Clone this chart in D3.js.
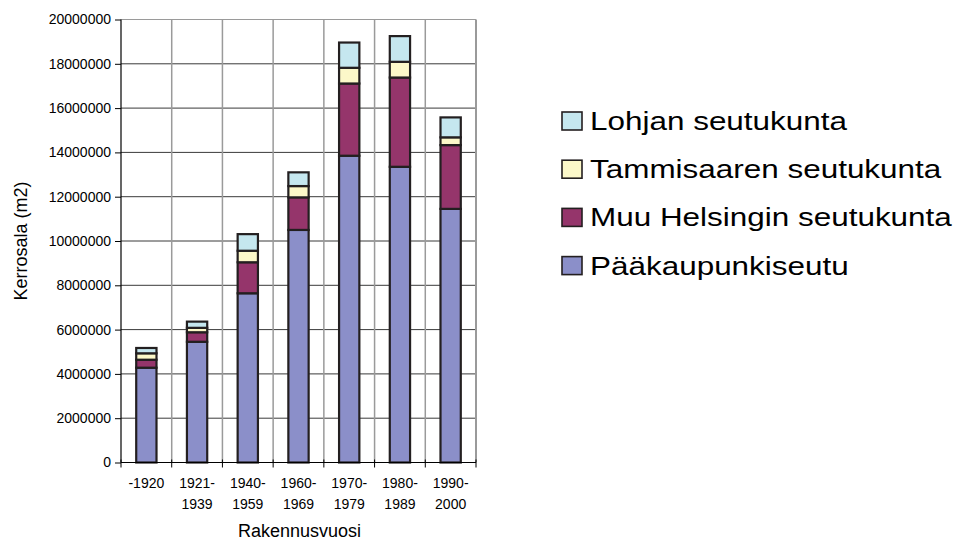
<!DOCTYPE html>
<html><head><meta charset="utf-8">
<script src="https://cdn.jsdelivr.net/npm/d3@7"></script>
<style>
body{margin:0;background:#fff;}
svg{display:block;font-family:"Liberation Sans",Arial,sans-serif;}
</style></head>
<body><svg id="c" width="959" height="542"></svg>
<script>
const categories = ["-1920","1921-\n1939","1940-\n1959","1960-\n1969","1970-\n1979","1980-\n1989","1990-\n2000"];
const paakaupunkiseutu = [4280000,5450000,7640000,10500000,13850000,13350000,11450000];
const muuHelsingin     = [360000, 430000, 1400000, 1470000, 3260000, 4030000, 2880000];
const tammisaaren      = [290000, 200000, 520000,  510000,  710000,  710000,  350000];
const lohjan           = [240000, 280000, 750000,  620000,  1140000, 1160000, 900000];
const seriesNames = ["Pääkaupunkiseutu","Muu Helsingin seutukunta","Tammisaaren seutukunta","Lohjan seutukunta"];
const seriesColors = ["#8b8fc9","#95356b","#fcf8c9","#c5e7ef"];
const yTicks = [0,2000000,4000000,6000000,8000000,10000000,12000000,14000000,16000000,18000000,20000000];
const yTitle = "Kerrosala (m2)";
const xTitle = "Rakennusvuosi";

const svg = d3.select("#c");
const m = {l:121, r:476, t:19.5, b:462.5};
const x = d3.scaleBand().domain(categories).range([m.l, m.r]).paddingInner(0).paddingOuter(0);
const y = d3.scaleLinear().domain([0,20000000]).range([m.b, m.t]);

const rows = categories.map((c,i)=>({cat:c, s0:paakaupunkiseutu[i], s1:muuHelsingin[i], s2:tammisaaren[i], s3:lohjan[i]}));
const stack = d3.stack().keys(["s0","s1","s2","s3"])(rows);

// horizontal gridlines
svg.append("g").selectAll("line").data(yTicks.slice(1)).join("line")
  .attr("x1",m.l).attr("x2",m.r).attr("y1",d=>y(d)).attr("y2",d=>y(d))
  .attr("stroke", (d,i)=> d===20000000 ? "#9a9a9a" : "#3a3a3a").attr("stroke-width",1);
// vertical gridlines
svg.append("g").selectAll("line").data(categories.slice(1)).join("line")
  .attr("x1",d=>x(d)).attr("x2",d=>x(d)).attr("y1",m.t).attr("y2",m.b)
  .attr("stroke","#9a9a9a").attr("stroke-width",1.5);
svg.append("line").attr("x1",m.r).attr("x2",m.r).attr("y1",m.t).attr("y2",m.b)
  .attr("stroke","#9a9a9a").attr("stroke-width",2);

// bars
const bw = x.bandwidth()*0.4;
svg.append("g").selectAll("g").data(stack).join("g")
  .attr("fill",(d,i)=>seriesColors[i])
  .selectAll("rect").data(d=>d).join("rect")
  .attr("x",d=>x(d.data.cat)+x.bandwidth()*0.3)
  .attr("width",bw)
  .attr("y",d=>y(d[1]))
  .attr("height",d=>y(d[0])-y(d[1]))
  .attr("stroke","#231f20").attr("stroke-width",2.2);

// y axis
const ya = svg.append("g").attr("transform",`translate(${m.l},0)`)
  .call(d3.axisLeft(y).tickValues(yTicks).tickSize(6).tickPadding(4).tickFormat(d3.format("d")));
ya.select(".domain").attr("stroke","#000").attr("stroke-width",1.2).attr("d",`M0,${m.b}V${m.t}`);
ya.selectAll(".tick line").attr("stroke","#000");
ya.selectAll(".tick text").attr("font-size",14).attr("font-family","Liberation Sans, Arial").attr("fill","#000");

// x axis
const xa = svg.append("g").attr("transform",`translate(0,${m.b})`);
xa.append("line").attr("x1",m.l).attr("x2",m.r).attr("stroke","#000").attr("stroke-width",1.2);
xa.selectAll("line.t").data(categories.concat(["end"])).join("line").attr("class","t")
  .attr("x1",(d,i)=>m.l+i*x.step()).attr("x2",(d,i)=>m.l+i*x.step())
  .attr("y1",-3).attr("y2",5).attr("stroke","#000");
const xl = xa.selectAll("text").data(categories).join("text")
  .attr("text-anchor","middle").attr("font-size",14).attr("fill","#000")
  .attr("transform",d=>`translate(${x(d)+x.bandwidth()/2},0)`);
xl.selectAll("tspan").data(d=>d.split("\n")).join("tspan")
  .attr("x",0).attr("y",(d,i)=>25.5+i*21).text(d=>d);

// titles
svg.append("text").attr("transform",`translate(${(m.l+m.r)/2+1},537)`).attr("text-anchor","middle")
  .attr("font-size",18).attr("fill","#000").text(xTitle);
svg.append("text").attr("transform",`translate(27,241) rotate(-90)`).attr("text-anchor","middle")
  .attr("font-size",18).attr("fill","#000").text(yTitle);

// legend (top to bottom reversed order)
const legOrder = [3,2,1,0];
const lg = svg.append("g").selectAll("g").data(legOrder).join("g")
  .attr("transform",(d,i)=>`translate(562,${112+i*48.2})`);
lg.append("rect").attr("width",20).attr("height",18).attr("fill",d=>seriesColors[d])
  .attr("stroke","#231f20").attr("stroke-width",1.6);
lg.append("text").attr("transform","translate(28,18) scale(1.21,1)").attr("font-size",26)
  .attr("fill","#000").text(d=>seriesNames[d]);
</script></body></html>
